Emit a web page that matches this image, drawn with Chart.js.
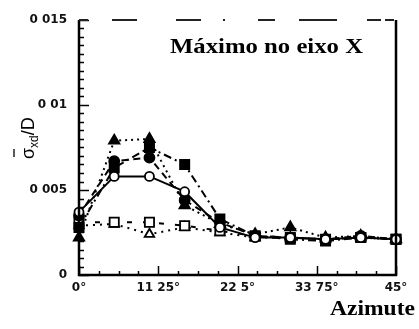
<!DOCTYPE html>
<html>
<head>
<meta charset="utf-8">
<script src="https://cdn.jsdelivr.net/npm/chart.js@4"></script>
<style>
  body{margin:0;background:#fff;}
  canvas{display:block;}
</style>
</head>
<body>
<canvas id="myChart" width="419" height="329"></canvas>
<script>
// dados
const azimute=[0,5,10,15,20,25,30,35,40,45];
const circuloAberto=[0.0037,0.0058,0.0058,0.0049,0.0028,0.0022,0.0022,0.0021,0.0022,0.0021];
const circuloCheio=[0.0035,0.0067,0.0069,0.0044,0.0031,0.0023,0.0022,0.0021,0.0023,0.0021];
const quadradoCheio=[0.0028,0.0063,0.0075,0.0065,0.0033,0.0023,0.0021,0.0020,0.0022,0.0021];
const trianguloCheio=[0.0022,0.0079,0.0080,0.0041,0.0030,0.0024,0.0028,0.0022,0.0023,0.0021];
const quadradoAberto=[0.0031,0.0031,0.0031,0.0029,0.0026,0.0023,0.0022,0.0021,0.0022,0.0021];
const trianguloAberto=[0.0029,0.0030,0.0024,0.0028,0.0025,0.0022,0.0022,0.0021,0.0022,0.0021];

const xTicks=[0,11.25,22.5,33.75,45];
const xLabels=["0°","11 25°","22 5°","33 75°","45°"];
const yTicks=[0,0.005,0.01,0.015];
const yLabels=["0","0 005","0 01","0 015"];

function pts(vals){
    return azimute.map((a,i)=>({x:a,y:vals[i]}));
}

function serie(vals,style,filled,dash,r){
    return {
        data:pts(vals),
        borderColor:"#000",
        borderWidth:2,
        borderDash:dash,
        pointStyle:style,
        pointRadius:r,
        pointBorderWidth:1.8,
        pointBorderColor:"#000",
        pointBackgroundColor:filled?"#000":"#fff",
        fill:false,
        tension:0,
        clip:false
    };
}

// moldura, marcas internas e textos
const extras={
    id:"extras",
    afterDraw(chart){
        const ctx=chart.ctx;
        const a=chart.chartArea;
        const xs=chart.scales.x, ys=chart.scales.y;
        ctx.save();
        ctx.strokeStyle="#000";
        ctx.lineWidth=1.5;
        for(let v=0;v<=0.01501;v+=0.0005){
            const y=Math.round(ys.getPixelForValue(v))+0.5;
            const major=Math.abs(v/0.005-Math.round(v/0.005))<1e-6;
            ctx.beginPath();
            ctx.moveTo(a.left,y);
            ctx.lineTo(a.left+(major?10:5),y);
            ctx.stroke();
        }
        for(let v=0;v<=45.01;v+=2.8125){
            const x=Math.round(xs.getPixelForValue(v))+0.5;
            const major=Math.abs(v/11.25-Math.round(v/11.25))<1e-6;
            ctx.beginPath();
            ctx.moveTo(x,a.bottom);
            ctx.lineTo(x,a.bottom-(major?9:4));
            ctx.stroke();
        }
        ctx.lineWidth=2.5;
        ctx.beginPath();
        ctx.moveTo(a.left,a.top);
        ctx.lineTo(a.left,a.bottom);
        ctx.lineTo(a.right,a.bottom);
        ctx.lineTo(a.right,a.top);
        ctx.stroke();
        ctx.lineWidth=1.8;
        ctx.strokeStyle="#222";
        ctx.setLineDash([9,24,25,39,25,22,2,33,17,24,38,30,14,4]);
        ctx.beginPath();
        ctx.moveTo(a.left,a.top);
        ctx.lineTo(a.right,a.top);
        ctx.stroke();
        ctx.setLineDash([]);

        ctx.fillStyle="#000";
        ctx.textBaseline="alphabetic";
        ctx.textAlign="left";
        ctx.font="bold 21px 'Liberation Serif'";
        let t="Máximo no eixo X";
        let w=ctx.measureText(t).width;
        ctx.save();
        ctx.translate(170,53);
        ctx.scale(193/w,1);
        ctx.fillText(t,0,0);
        ctx.restore();
        t="Azimute";
        ctx.font="bold 22px 'Liberation Serif'";
        w=ctx.measureText(t).width;
        ctx.save();
        ctx.translate(330,315);
        ctx.scale(85/w,1);
        ctx.fillText(t,0,0);
        ctx.restore();

        // titulo do eixo y
        ctx.save();
        ctx.translate(34,159);
        ctx.rotate(-Math.PI/2);
        ctx.font="18px 'Liberation Sans'";
        ctx.fillText("σ",0,0);
        const ws=ctx.measureText("σ").width;
        ctx.lineWidth=1.5;
        ctx.beginPath();
        ctx.moveTo(2,-20);
        ctx.lineTo(ws-1,-20);
        ctx.stroke();
        ctx.font="12px 'Liberation Sans'";
        ctx.fillText("xd",ws,4);
        const wx=ctx.measureText("xd").width;
        ctx.font="18px 'Liberation Sans'";
        ctx.fillText("/D",ws+wx,0);
        ctx.restore();
        ctx.restore();
    }
};

const myChart=document.querySelector("#myChart").getContext("2d");
const chart=new Chart(myChart,{
    type:"line",
    data:{
        datasets:[
            serie(circuloAberto,"circle",false,[],4.5),
            serie(circuloCheio,"circle",true,[7,5],5),
            serie(trianguloCheio,"triangle",true,[2,4],6),
            serie(quadradoCheio,"rect",true,[8,4,2,4],6.5),
            serie(quadradoAberto,"rect",false,[5,11],6.5),
            serie(trianguloAberto,"triangle",false,[2,5],5.5),
        ]
    },
    options:{
        responsive:false,
        animation:false,
        devicePixelRatio:1,
        layout:{padding:{left:0,right:23,top:20,bottom:0}},
        plugins:{legend:{display:false},tooltip:{enabled:false}},
        scales:{
            x:{
                type:"linear",
                min:0,max:45,
                border:{display:false},
                grid:{display:false,drawTicks:false},
                afterBuildTicks:(s)=>{s.ticks=xTicks.map(v=>({value:v}));},
                afterFit:(s)=>{s.height=54;},
                ticks:{
                    padding:6,
                    maxRotation:0,
                    color:"#111",
                    font:{family:"DejaVu Sans",size:12,weight:"bold"},
                    callback:(v)=>xLabels[xTicks.indexOf(v)]
                }
            },
            y:{
                min:0,max:0.015,
                border:{display:false},
                grid:{display:false,drawTicks:false},
                afterBuildTicks:(s)=>{s.ticks=yTicks.map(v=>({value:v}));},
                afterFit:(s)=>{s.width=79;},
                ticks:{
                    padding:12,
                    color:"#111",
                    font:{family:"DejaVu Sans",size:12,weight:"bold"},
                    callback:(v)=>yLabels[yTicks.indexOf(v)]
                }
            }
        }
    },
    plugins:[extras]
});
</script>
</body>
</html>
